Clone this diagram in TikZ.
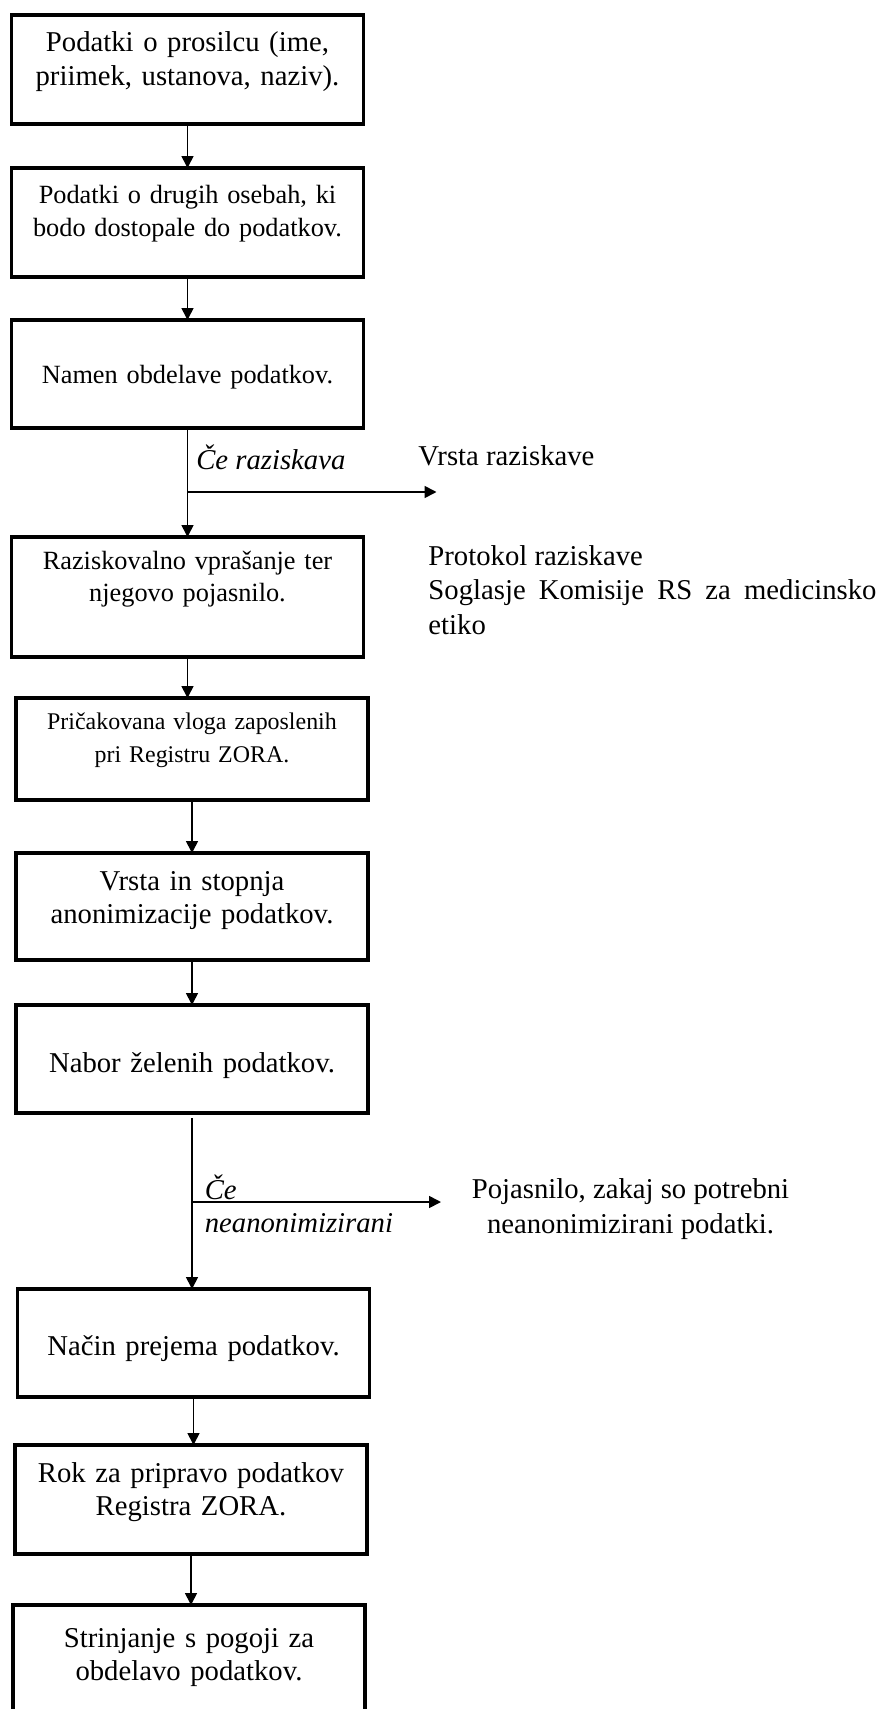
\documentclass[tikz,border=0pt]{standalone}
\usepackage{fontspec}
\setmainfont{Liberation Serif}
\usetikzlibrary{positioning,arrows.meta}
\newlength{\pxu}
\setlength{\pxu}{0.418pt}

\begin{document}
\begin{tikzpicture}[
  x=\pxu, y=-\pxu,
  box/.style={draw, rectangle, line width=1.4pt, minimum width=352*\pxu, text width=330*\pxu, align=center, inner xsep=0pt, inner ysep=0pt, outer sep=0pt, font=\fontsize{12}{14}\selectfont},
  boxmid/.style={font=\fontsize{11}{13.4}\selectfont},
  boxsmall/.style={font=\fontsize{10}{14}\selectfont},
  sidetext/.style={font=\fontsize{12}{14.5}\selectfont},
  cond/.style={font=\fontsize{12}{14}\selectfont\itshape},
  arrow/.style={-{Triangle[width=5pt,length=5pt]}, line width=0.7pt}
]
\useasboundingbox (0,0) rectangle (881,1709);

\node[box, anchor=north, text height=37*\pxu, text depth=72*\pxu] (prosilec) at (187.5,15) {Podatki o prosilcu (ime,\\ priimek, ustanova, naziv).};
\node[box, boxmid, below=44*\pxu of prosilec, text height=36*\pxu, text depth=73*\pxu] (drugi) {Podatki o drugih osebah, ki\\ bodo dostopale do podatkov.};
\node[box, boxmid, below=43*\pxu of drugi, text height=63*\pxu, text depth=45*\pxu] (namen) {Namen obdelave podatkov.};
\node[box, boxmid, below=109*\pxu of namen, text height=32*\pxu, text depth=88*\pxu] (razisk) {Raziskovalno vprašanje ter\\ njegovo pojasnilo.};
\node[box, boxsmall, below=41*\pxu of razisk, xshift=4.5*\pxu, text height=31*\pxu, text depth=71*\pxu] (vloga) {Pričakovana vloga zaposlenih\\ pri Registru ZORA.};
\node[box, below=53*\pxu of vloga, text height=37*\pxu, text depth=70*\pxu] (anonim) {Vrsta in stopnja\\ anonimizacije podatkov.};
\node[box, below=45*\pxu of anonim, text height=67*\pxu, text depth=41*\pxu] (nabor) {Nabor želenih podatkov.};
\node[box, below=176*\pxu of nabor, xshift=1.5*\pxu, text height=66*\pxu, text depth=42*\pxu] (nacin) {Način prejema podatkov.};
\node[box, below=48*\pxu of nacin, xshift=-2.5*\pxu, text height=37*\pxu, text depth=72*\pxu] (rok) {Rok za pripravo podatkov\\ Registra ZORA.};
\node[box, below=51*\pxu of rok, xshift=-2*\pxu, text height=42*\pxu, text depth=67*\pxu] (strinjanje) {Strinjanje s pogoji za\\ obdelavo podatkov.};

% side notes
\node[sidetext, anchor=base west] (vrsta) at (410,465) {Vrsta raziskave};
\node[sidetext, anchor=base west, text width=448*\pxu, align=justify] (protokol) at (420,565) {\tolerance=10000 \hyphenpenalty=10000 Protokol raziskave\\ Soglasje Komisije RS za medicinsko etiko};
\node[sidetext, align=center] (pojasnilo) at (630.5,1209) {Pojasnilo, zakaj so potrebni\\ neanonimizirani podatki.};

% main flow
\draw[arrow] (prosilec) -- (prosilec |- drugi.north);
\draw[arrow] (drugi) -- (drugi |- namen.north);
\draw[arrow] (namen) -- (namen |- razisk.north);
\coordinate (split1) at ([yshift=-64*\pxu]namen.south);
\coordinate (vrstatip) at ([xshift=249*\pxu]split1);
\draw[arrow] (split1) -- (vrstatip) node[cond, pos=0, anchor=south west, yshift=13*\pxu] (cerazisk) {Če raziskava};
\draw[arrow] (razisk) -- (razisk |- vloga.north);
\draw[arrow] (vloga) -- (vloga |- anonim.north);
\draw[arrow] (anonim) -- (anonim |- nabor.north);
\draw[arrow, shorten <=5*\pxu] (nabor) -- (nabor |- nacin.north);
\coordinate (split2) at ([yshift=-89*\pxu]nabor.south);
\coordinate (pojtip) at ([xshift=249*\pxu]split2);
\draw[arrow] (split2) -- (pojtip) node[cond, pos=0, anchor=base west, text width=190*\pxu, align=left, xshift=4*\pxu, yshift=3*\pxu] (cenean) {Če\\ neanonimizirani};
\draw[arrow] (nacin) -- (nacin |- rok.north);
\draw[arrow] (rok) -- (rok |- strinjanje.north);
\end{tikzpicture}
\end{document}
